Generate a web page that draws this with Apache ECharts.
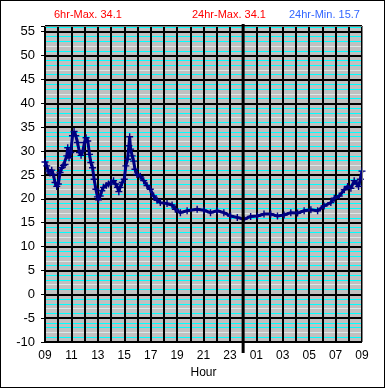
<!DOCTYPE html>
<html><head><meta charset="utf-8">
<script src="https://cdn.jsdelivr.net/npm/echarts@6/dist/echarts.min.js"></script>
<style>
html,body{margin:0;padding:0;background:#fff;}
#wrap{position:relative;width:385px;height:388px;}
#c{width:385px;height:388px;}
#frame{position:absolute;left:0;top:0;width:385px;height:388px;box-sizing:border-box;border:1px solid #000;pointer-events:none;}
</style></head>
<body><div id="wrap"><div id="c"></div><div id="frame"></div></div>
<script>
// hours elapsed since 09:00
var hours = [0,0.13,0.25,0.38,0.51,0.63,0.76,0.89,1.01,1.14,1.27,1.39,1.52,1.65,1.72,1.82,1.95,2.08,2.2,2.33,2.46,2.61,2.73,2.86,2.99,3.11,3.24,3.37,3.47,3.6,3.72,3.85,3.97,4.05,4.18,4.3,4.43,4.63,4.81,4.99,5.19,5.34,5.49,5.59,5.69,5.85,6.0,6.12,6.25,6.35,6.41,6.48,6.6,6.71,6.81,6.96,7.21,7.47,7.72,7.97,8.22,8.48,8.73,9.24,9.62,9.87,10.25,10.76,11.52,12.02,12.53,13.04,13.54,14.05,14.56,15.06,15.57,16.08,16.58,17.09,17.6,18.1,18.61,19.12,19.62,20.13,20.64,21.13,21.64,21.9,22.28,22.66,22.91,23.16,23.41,23.62,23.74,23.87,24.0];
var temps = [27.7,26.9,25.8,25.4,26.0,25.1,23.4,22.6,23.1,25.5,26.5,27.0,27.2,29.0,30.7,28.6,29.7,33.2,34.1,33.2,31.8,29.7,29.1,30.0,31.8,32.8,32.1,29.3,27.6,26.5,24.1,22.0,20.4,19.8,20.6,21.7,22.4,22.8,23.1,23.4,23.8,23.1,22.4,21.5,22.4,23.4,24.1,26.9,28.3,31.1,33.0,30.4,29.0,27.9,26.2,25.1,24.7,23.8,22.8,22.0,20.6,19.7,19.2,19.0,18.7,17.8,17.1,17.5,17.8,17.6,17.1,17.5,17.1,16.4,16.1,15.7,16.3,16.4,16.8,16.8,16.4,16.6,17.1,17.0,17.5,17.7,17.5,18.5,19.2,20.1,20.6,21.9,22.6,22.2,23.8,23.1,22.6,24.1,25.8];
var startHour = 9;
var headerTexts = ['6hr-Max. 34.1', '24hr-Max. 34.1', '24hr-Min. 15.7'];
var yMin = -10, yMax = 56.2;

var chart = echarts.init(document.getElementById('c'), null, {renderer:'canvas'});
var seriesData = hours.map(function(h,i){return [h, temps[i]];});
function hourLabel(v){ var h = (startHour + Math.round(v)) % 24; return (h<10?'0':'')+h; }
var font = 'Liberation Sans, Arial, sans-serif';
var option = {
  animation:false,
  backgroundColor:'#fff',
  title:[
    {text:headerTexts[0], left:54, top:9, padding:0, textStyle:{color:'#ff0000', fontSize:11, fontWeight:'normal', fontFamily:font}},
    {text:headerTexts[1], left:192, top:9, padding:0, textStyle:{color:'#ff0000', fontSize:11, fontWeight:'normal', fontFamily:font}},
    {text:headerTexts[2], left:289, top:9, padding:0, textStyle:{color:'#3366ff', fontSize:11, fontWeight:'normal', fontFamily:font}}
  ],
  grid:{left:45, right:23, top:26, bottom:46, show:true, backgroundColor:'#c0c0c0', borderWidth:0},
  xAxis:[
    {type:'value', min:0, max:24, interval:2, position:'bottom',
     axisLine:{show:true, lineStyle:{color:'#000', width:1}},
     axisTick:{show:true, length:4, inside:false, lineStyle:{color:'#000'}},
     axisLabel:{formatter:hourLabel, color:'#000', fontSize:12, margin:8, fontFamily:font},
     splitLine:{show:false},
     name:'Hour', nameLocation:'middle', nameGap:25, nameTextStyle:{color:'#000', fontSize:12, fontFamily:font}},
    {type:'value', min:0, max:24, interval:1, position:'bottom',
     axisLine:{show:false}, axisTick:{show:false}, axisLabel:{show:false},
     splitLine:{show:true, lineStyle:{color:'#000', width:2}}}
  ],
  yAxis:[
    {type:'value', min:yMin, max:yMax, interval:1,
     axisLine:{show:false}, axisTick:{show:false}, axisLabel:{show:false},
     splitLine:{show:true, lineStyle:{color:['#00ffff','#00ffff','#dce8e8','#00ffff','#00ffff'], width:1}}},
    {type:'value', min:yMin, max:yMax, interval:5, position:'left',
     axisLine:{show:true, lineStyle:{color:'#000', width:1}},
     axisTick:{show:true, length:4, lineStyle:{color:'#000'}},
     axisLabel:{color:'#000', fontSize:13, margin:10, fontFamily:font,
       formatter:function(v){ return (Math.abs(v % 5) < 1e-9) ? String(v) : ''; }},
     splitLine:{show:true, lineStyle:{color:'#000', width:2}}}
  ],
  series:[{
    type:'line', xAxisIndex:0, yAxisIndex:1, data:seriesData,
    lineStyle:{color:'#000080', width:3},
    symbol:'path://M2,0H3V2H5V3H3V5H2V3H0V2H2Z', symbolSize:7, showSymbol:true,
    itemStyle:{color:'#000080'}, z:5
  }]
};
chart.setOption(option);

// borders and midnight line, positioned from the axes' own scales
var pTL = chart.convertToPixel({xAxisIndex:0, yAxisIndex:1}, [0, yMax]);
var pBR = chart.convertToPixel({xAxisIndex:0, yAxisIndex:1}, [24, yMin]);
var midH = (24 - startHour) % 24;
var pMid = chart.convertToPixel({xAxisIndex:0, yAxisIndex:1}, [midH, yMin]);
chart.setOption({graphic:[
  {type:'polyline', z:50, shape:{points:[[pTL[0], pTL[1]+0.5],[pBR[0]+0.5, pTL[1]+0.5],[pBR[0]+0.5, pBR[1]]]}, style:{stroke:'#808080', lineWidth:1, fill:null}},
  {type:'line', z:60, shape:{x1:pMid[0], y1:pTL[1]-2, x2:pMid[0], y2:pBR[1]+11}, style:{stroke:'#000', lineWidth:3}}
]});
</script></body></html>
